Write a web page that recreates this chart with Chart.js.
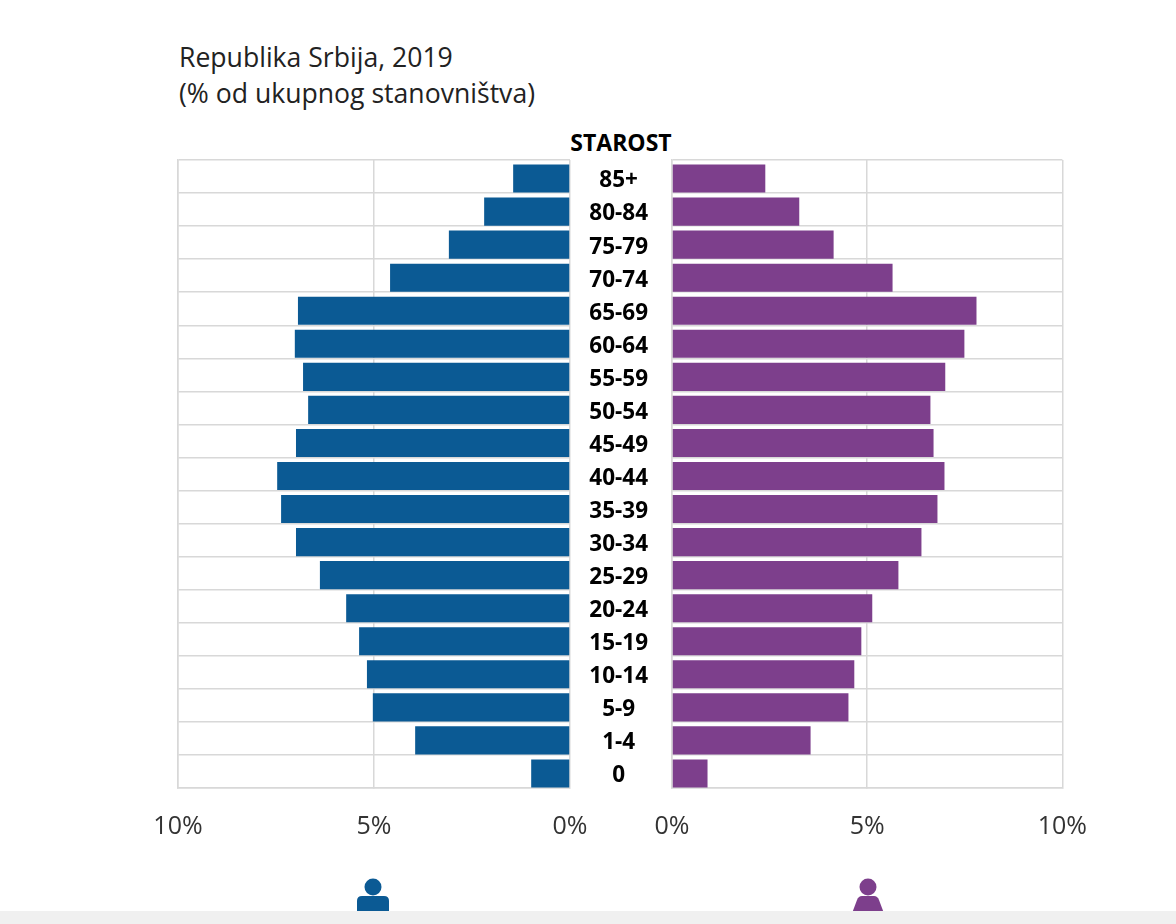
<!DOCTYPE html>
<html>
<head>
<meta charset="utf-8">
<script src="https://cdn.jsdelivr.net/npm/chart.js@4"></script>
<style>
  html, body { margin: 0; padding: 0; background: #fff; overflow: hidden; }
  body { width: 1176px; height: 924px; position: relative; font-family: "Open Sans", sans-serif; }
  canvas { position: absolute; top: 130px; }
  #title { position: absolute; left: 179px; top: 39px; font-size: 26.6px; line-height: 36px; color: #222; }
  #ageTitle { position: absolute; left: 521px; width: 200px; top: 128px; text-align: center; font-size: 23px; line-height: 28px; font-weight: 700; color: #000; }
  .person { position: absolute; top: 876px; width: 40px; height: 40px; }
  #footer { position: absolute; left: 0; top: 911px; width: 1176px; height: 13px; background: #f0f0f0; }
</style>
</head>
<body>
<div id="title">Republika Srbija, 2019<br>(% od ukupnog stanovništva)</div>
<div id="ageTitle">STAROST</div>
<canvas id="maleChart" width="470" height="720" style="left:130px;width:470px;height:720px"></canvas>
<canvas id="femaleChart" width="539" height="720" style="left:572px;width:539px;height:720px"></canvas>
<svg class="person" style="left:353px" viewBox="0 0 40 40">
  <circle cx="20" cy="11" r="8.5" fill="#0b5a94"/>
  <path d="M4 40V25q0-5 5-5h22q5 0 5 5v15z" fill="#0b5a94"/>
</svg>
<svg class="person" style="left:848px" viewBox="0 0 40 40">
  <circle cx="20" cy="11" r="8.5" fill="#7d3f8c"/>
  <path d="M3 40L9 24q1.500-4 5-4h12q3.500 0 5 4l6 16z" fill="#7d3f8c"/>
</svg>
<div id="footer"></div>
<script>
const ageGroups = ['85+', '80-84', '75-79', '70-74', '65-69', '60-64', '55-59', '50-54', '45-49', '40-44',
  '35-39', '30-34', '25-29', '20-24', '15-19', '10-14', '5-9', '1-4', '0'];
const maleValues = [1.45, 2.19, 3.09, 4.59, 6.94, 7.02, 6.81, 6.68, 6.99, 7.47,
  7.37, 6.99, 6.38, 5.71, 5.38, 5.18, 5.03, 3.95, 0.99];
const femaleValues = [2.39, 3.26, 4.14, 5.65, 7.80, 7.49, 7.00, 6.62, 6.70, 6.98,
  6.80, 6.39, 5.80, 5.13, 4.85, 4.67, 4.52, 3.55, 0.91];
const percentTicks = [0, 5, 10];

const gridColor = '#d8d8d8';

// bars and age labels sit a little below the middle of their grid row
const rowNudge = {
  id: 'rowNudge',
  beforeDatasetsDraw(chart) {
    chart.ctx.save();
    chart.ctx.translate(0, 2);
  },
  afterDatasetsDraw(chart) {
    chart.ctx.translate(0, 2.5);
  },
  afterDraw(chart) {
    chart.ctx.restore();
  }
};

function buildPyramidSide(canvasId, label, values, color, isLeft) {
  new Chart(document.getElementById(canvasId), {
    type: 'bar',
    plugins: [rowNudge],
    data: {
      labels: ageGroups,
      datasets: [{
        label: label,
        data: values,
        backgroundColor: color,
        barPercentage: 0.85,
        categoryPercentage: 1
      }]
    },
    options: {
      indexAxis: 'y',
      responsive: false,
      animation: false,
      layout: {
        padding: isLeft ? { left: 48, right: 30, top: 30, bottom: 0 } : { left: 0, right: 45, top: 30, bottom: 0 }
      },
      plugins: {
        legend: { display: false },
        tooltip: { enabled: false }
      },
      scales: {
        x: {
          min: 0,
          max: 10,
          reverse: isLeft,
          afterBuildTicks: (axis) => { axis.ticks = percentTicks.map(v => ({ value: v })); },
          afterFit: (axis) => { axis.height = 62; },
          grid: { color: gridColor, lineWidth: 1.5, tickLength: 0 },
          border: { color: gridColor, width: 1.5 },
          ticks: {
            padding: 24,
            maxRotation: 0,
            color: '#333',
            font: { family: '"Open Sans"', size: 25 },
            callback: (v) => v + '%'
          }
        },
        y: {
          afterFit: (axis) => { axis.width = isLeft ? 0 : 100; },
          // tick length only pushes the age labels into the gap, the marks stay invisible
          grid: { color: gridColor, lineWidth: 1.5, tickLength: isLeft ? 0 : 24, tickColor: 'transparent' },
          border: { color: gridColor, width: 1.5 },
          ticks: {
            display: !isLeft,
            autoSkip: false,
            crossAlign: 'center',
            padding: 0,
            z: 1,
            color: '#000',
            font: { family: '"Open Sans"', size: 22.5, weight: '700' }
          }
        }
      }
    }
  });
}

buildPyramidSide('maleChart', 'Muškarci', maleValues, '#0b5a94', true);
buildPyramidSide('femaleChart', 'Žene', femaleValues, '#7d3f8c', false);
</script>
</body>
</html>
